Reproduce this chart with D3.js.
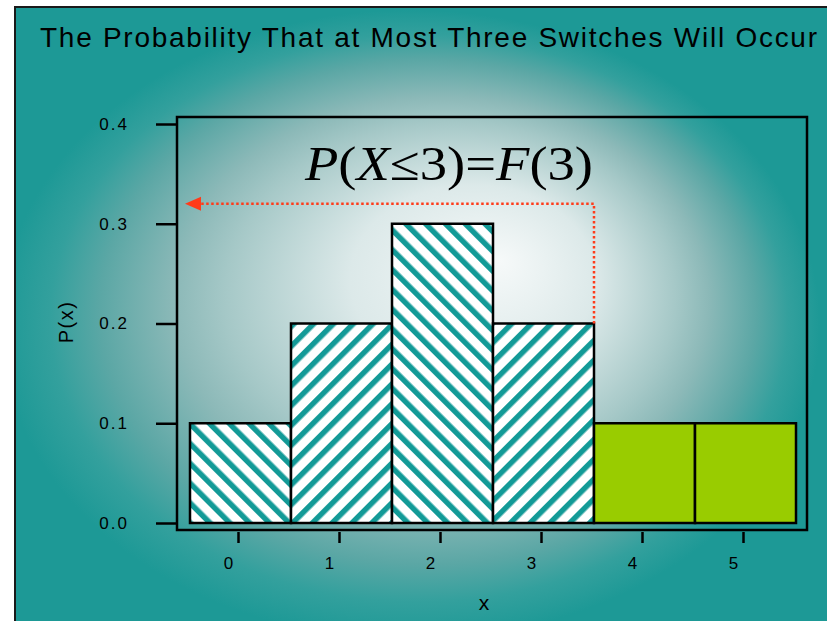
<!DOCTYPE html>
<html>
<head>
<meta charset="utf-8">
<script src="https://cdn.jsdelivr.net/npm/d3@7"></script>
<style>
  html, body { margin: 0; padding: 0; background: #fff; }
  svg { display: block; }
  text { font-family: "Liberation Sans", Arial, sans-serif; fill: #000; }
</style>
</head>
<body>
<svg id="chart" width="827" height="621"></svg>
<script>
// chart data
var xValues = [0, 1, 2, 3, 4, 5];
var probs = [0.1, 0.2, 0.3, 0.2, 0.1, 0.1];
var yTicks = [0.0, 0.1, 0.2, 0.3, 0.4];
var cutoff = 3;          // P(X <= 3)
var arrowLevel = 0.32;   // height of the dotted arrow
var titleText = "The Probability That at Most Three Switches Will Occur";

const svg = d3.select('#chart');
const defs = svg.append("defs");

// background gradient: ellipse centre (410,325), rx 410, ry 315, bright spot near (500,260)
var k = 315 / 410;
var bg = defs.append("radialGradient")
    .attr("id", "bgGrad")
    .attr("gradientUnits", "userSpaceOnUse")
    .attr("cx", 410).attr("cy", 325).attr("r", 410)
    .attr("fx", 500).attr("fy", 325 + (260 - 325) / k)
    .attr("gradientTransform", "translate(410,325) scale(1," + k + ") translate(-410,-325)");
[[0, "#f6f9f9"], [0.3, "#dce9e9"], [0.55, "#a5c8c7"], [0.65, "#8cb9b8"], [0.8, "#5ba7a5"], [0.9, "#33a09d"], [1, "#1d9996"]]
    .forEach(function(s) {
        bg.append("stop").attr("offset", s[0]).attr("stop-color", s[1]);
    });

// hatch patterns: "/" and "\"
function hatch(id, angle) {
    var p = defs.append("pattern")
        .attr("id", id)
        .attr("patternUnits", "userSpaceOnUse")
        .attr("width", 14).attr("height", 14)
        .attr("patternTransform", "rotate(" + angle + ")");
    p.append("rect").attr("width", 14).attr("height", 14).attr("fill", "#ffffff");
    p.append("rect").attr("x", 0).attr("width", 5.5).attr("height", 14).attr("fill", "#139a97");
}
hatch("hatchUp", 45);     // "/"
hatch("hatchDown", -45);  // "\"

// panel
svg.append("rect")
    .attr("x", 15).attr("y", 7)
    .attr("width", 830).attr("height", 630)
    .attr("fill", "url(#bgGrad)")
    .attr("stroke", "#1a1a1a")
    .attr("stroke-width", 2);

// title
svg.append("text")
    .attr("x", 40).attr("y", 47)
    .attr("font-size", 28)
    .attr("textLength", 777)
    .attr("lengthAdjust", "spacing")
    .text(titleText);

// scales
var xScale = d3.scaleBand().domain(xValues).range([190, 796]).padding(0);
var yScale = d3.scaleLinear([0, 0.4], [523, 124]);

// plot frame
svg.append("rect")
    .attr("x", 177).attr("y", 117)
    .attr("width", 630).attr("height", 413)
    .attr("fill", "none")
    .attr("stroke", "#000")
    .attr("stroke-width", 2.5);

// y axis
var yAxis = d3.axisLeft(yScale)
    .tickValues(yTicks)
    .tickSize(21)
    .tickPadding(27)
    .tickFormat(d3.format(".1f"));
var yG = svg.append("g")
    .attr("transform", "translate(177,0)")
    .call(yAxis);
yG.select(".domain").remove();
yG.selectAll(".tick line").attr("stroke", "#000").attr("stroke-width", 2.5);
yG.selectAll(".tick text")
    .attr("font-family", "Liberation Sans, Arial, sans-serif")
    .attr("font-size", 17)
    .attr("letter-spacing", 2)
    .attr("fill", "#000");

// x axis
var xAxis = d3.axisBottom(xScale)
    .tickSize(11)
    .tickPadding(14);
var xG = svg.append("g")
    .attr("transform", "translate(-2,532)")
    .call(xAxis);
xG.select(".domain").remove();
xG.selectAll(".tick line").attr("stroke", "#000").attr("stroke-width", 2.5);
xG.selectAll(".tick text")
    .attr("font-family", "Liberation Sans, Arial, sans-serif")
    .attr("font-size", 17)
    .attr("dx", -10)
    .attr("fill", "#000");

// bars
svg.append("g")
    .selectAll("rect")
    .data(xValues)
    .enter()
    .append("rect")
    .attr("x", function(d) { return xScale(d); })
    .attr("y", function(d, i) { return yScale(probs[i]); })
    .attr("width", xScale.bandwidth())
    .attr("height", function(d, i) { return yScale(0) - yScale(probs[i]); })
    .attr("fill", function(d) {
        if (d > cutoff) return "#99cc00";
        return d % 2 == 0 ? "url(#hatchDown)" : "url(#hatchUp)";
    })
    .attr("stroke", "#000")
    .attr("stroke-width", 2.5);

// dotted arrow from the last included bar back to the y axis
var arrowX = xScale(cutoff) + xScale.bandwidth();
var arrowY = yScale(arrowLevel);
svg.append("path")
    .attr("d", "M" + arrowX + "," + yScale(probs[cutoff]) + "V" + arrowY + "H" + 198)
    .attr("fill", "none")
    .attr("stroke", "#ff3b1a")
    .attr("stroke-width", 2.5)
    .attr("stroke-dasharray", "2.5,2.5");
svg.append("path")
    .attr("d", "M185," + arrowY + "L201," + (arrowY - 7) + "L201," + (arrowY + 7) + "Z")
    .attr("fill", "#ff3b1a");

// formula
var formula = svg.append("text")
    .attr("x", 305).attr("y", 180)
    .attr("font-size", 48)
    .attr("textLength", 288)
    .attr("lengthAdjust", "spacingAndGlyphs")
    .style("font-family", "'Liberation Serif', 'Times New Roman', serif");
[["P", true], ["(", false], ["X", true], ["\u2264", false], ["3)=", false], ["F", true], ["(3)", false]]
    .forEach(function(s) {
        formula.append("tspan")
            .attr("font-style", s[1] ? "italic" : "normal")
            .text(s[0]);
    });

// axis labels
svg.append("text")
    .attr("x", 484).attr("y", 610)
    .attr("text-anchor", "middle")
    .attr("font-size", 21)
    .text("x");
svg.append("text")
    .attr("transform", "translate(73,322) rotate(-90)")
    .attr("text-anchor", "middle")
    .attr("font-size", 20)
    .attr("letter-spacing", 1.5)
    .text("P(x)");
</script>
</body>
</html>
